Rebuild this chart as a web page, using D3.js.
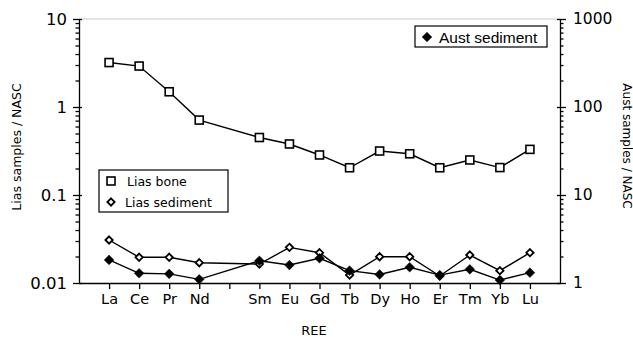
<!DOCTYPE html>
<html>
<head>
<meta charset="utf-8">
<script src="https://cdn.jsdelivr.net/npm/d3@7"></script>
<style>
  body { margin: 0; background: #fff; }
  svg { display: block; }
  .axis path, .axis line { stroke: #000; stroke-width: 1.3; }
  .axis text { fill: #000; }
</style>
</head>
<body>
<svg id="chart"></svg>
<script>
// REE order, Pm has no data and no label
const elements = ['La', 'Ce', 'Pr', 'Nd', 'Pm', 'Sm', 'Eu', 'Gd', 'Tb', 'Dy', 'Ho', 'Er', 'Tm', 'Yb', 'Lu'];
const tickLabels = ['La', 'Ce', 'Pr', 'Nd', '', 'Sm', 'Eu', 'Gd', 'Tb', 'Dy', 'Ho', 'Er', 'Tm', 'Yb', 'Lu'];

// left axis (Lias samples / NASC)
const liasBone = [3.2, 2.92, 1.49, 0.71, null, 0.45, 0.38, 0.285, 0.204, 0.316, 0.294, 0.204, 0.25, 0.205, 0.33];
const liasSediment = [0.0308, 0.0196, 0.0196, 0.017, null, 0.0164, 0.0254, 0.0221, 0.0123, 0.0199, 0.0199, 0.012, 0.0208, 0.0138, 0.0221];
// right axis (Aust samples / NASC)
const austSediment = [1.83, 1.29, 1.27, 1.1, null, 1.79, 1.6, 1.91, 1.38, 1.25, 1.51, 1.23, 1.43, 1.08, 1.31];

const leftTicks = [0.01, 0.1, 1, 10];
const rightTicks = [1, 10, 100, 1000];

const width = 633, height = 337;
const svg = d3.select('#chart').attr('width', width).attr('height', height);

const x = d3.scaleLinear().domain([-1, elements.length]).range([79, 560]);
const yL = d3.scaleLog().domain([0.01, 10]).range([283, 19]);
const yR = d3.scaleLog().domain([1, 1000]).range([283, 19]);

const font = 'DejaVu Sans, sans-serif';

function minors(lo, hi) {
  const out = [];
  for (let p = lo; p < hi; p *= 10) {
    for (let k = 2; k <= 9; k++) out.push(p * k);
  }
  return out;
}

// top frame line (faint in the reference)
svg.append('line')
  .attr('x1', x.range()[0]).attr('x2', x.range()[1])
  .attr('y1', yL.range()[1]).attr('y2', yL.range()[1])
  .attr('stroke', '#c8c8c8').attr('stroke-width', 1);

// x axis
svg.append('g')
  .attr('class', 'axis')
  .attr('transform', `translate(0,${yL.range()[0]})`)
  .call(d3.axisBottom(x)
    .tickValues(d3.range(elements.length))
    .tickSizeInner(6).tickSizeOuter(0)
    .tickPadding(5)
    .tickFormat(i => tickLabels[i]))
  .call(g => g.selectAll('text').attr('font-family', font).attr('font-size', 14.5));

// left axis
svg.append('g')
  .attr('class', 'axis')
  .attr('transform', `translate(${x.range()[0]},0)`)
  .call(d3.axisLeft(yL)
    .tickValues(leftTicks)
    .tickSizeInner(6).tickSizeOuter(0)
    .tickPadding(6)
    .tickFormat(d => d >= 1 ? d3.format('d')(d) : String(d)))
  .call(g => g.selectAll('text').attr('font-family', font).attr('font-size', 16.5));

svg.append('g')
  .attr('class', 'axis')
  .attr('transform', `translate(${x.range()[0]},0)`)
  .call(d3.axisLeft(yL).tickValues(minors(0.01, 10)).tickSize(3.5).tickFormat(''))
  .call(g => g.select('.domain').remove());

svg.append('g')
  .attr('class', 'axis')
  .attr('transform', `translate(${x.range()[0]},0)`)
  .call(d3.axisRight(yL).tickValues(leftTicks).tickSize(3).tickFormat(''))
  .call(g => g.select('.domain').remove());

// right axis
svg.append('g')
  .attr('class', 'axis')
  .attr('transform', `translate(${x.range()[1]},0)`)
  .call(d3.axisRight(yR)
    .tickValues(rightTicks)
    .tickSizeInner(6).tickSizeOuter(0)
    .tickPadding(7)
    .tickFormat(d3.format('d')))
  .call(g => g.selectAll('text').attr('font-family', font).attr('font-size', 15.5));

svg.append('g')
  .attr('class', 'axis')
  .attr('transform', `translate(${x.range()[1]},0)`)
  .call(d3.axisRight(yR).tickValues(minors(1, 1000)).tickSize(3.5).tickFormat(''))
  .call(g => g.select('.domain').remove());

svg.append('g')
  .attr('class', 'axis')
  .attr('transform', `translate(${x.range()[1]},0)`)
  .call(d3.axisLeft(yR).tickValues(rightTicks).tickSize(3).tickFormat(''))
  .call(g => g.select('.domain').remove());

// axis titles
svg.append('text')
  .attr('transform', 'translate(21,147) rotate(-90)')
  .attr('text-anchor', 'middle')
  .attr('font-family', font).attr('font-size', 12.5)
  .text('Lias samples / NASC');

svg.append('text')
  .attr('transform', 'translate(623,146) rotate(90)')
  .attr('text-anchor', 'middle')
  .attr('font-family', font).attr('font-size', 12)
  .text('Aust samples / NASC');

svg.append('text')
  .attr('x', 314).attr('y', 335)
  .attr('text-anchor', 'middle')
  .attr('font-family', font).attr('font-size', 13)
  .text('REE');

// series
const diamond = d3.symbol().type(d3.symbolDiamond2);
const series = [
  { name: 'Lias bone', values: liasBone, y: yL, shape: 'square', fill: '#fff' },
  { name: 'Lias sediment', values: liasSediment, y: yL, shape: 'diamond', fill: '#fff' },
  { name: 'Aust sediment', values: austSediment, y: yR, shape: 'diamond', fill: '#000' }
];

function drawMarker(g, shape, fill) {
  if (shape === 'square') {
    g.append('rect')
      .attr('x', -4).attr('y', -4).attr('width', 8).attr('height', 8)
      .attr('fill', fill).attr('stroke', '#000').attr('stroke-width', 1.6);
  } else {
    g.append('path')
      .attr('d', diamond.size(fill === '#000' ? 60 : 34)())
      .attr('fill', fill).attr('stroke', '#000').attr('stroke-width', fill === '#000' ? 0.5 : 1.8);
  }
}

series.forEach(s => {
  const pts = s.values.map((v, i) => ({ i, v })).filter(d => d.v != null);
  const line = d3.line().x(d => x(d.i)).y(d => s.y(d.v));
  svg.append('path')
    .datum(pts)
    .attr('d', line)
    .attr('fill', 'none')
    .attr('stroke', '#000')
    .attr('stroke-width', 1.4);
  svg.append('g').selectAll('g')
    .data(pts)
    .join('g')
    .attr('transform', d => `translate(${x(d.i)},${s.y(d.v)})`)
    .each(function () { drawMarker(d3.select(this), s.shape, s.fill); });
});

// legend: Lias
const legL = svg.append('g').attr('transform', 'translate(99,170)');
legL.append('rect').attr('width', 129).attr('height', 42)
  .attr('fill', '#fff').attr('stroke', '#000').attr('stroke-width', 1.2);
[series[0], series[1]].forEach((s, k) => {
  const row = legL.append('g').attr('transform', `translate(12,${11 + k * 21})`);
  drawMarker(row, s.shape, s.fill);
  row.append('text').attr('x', k === 0 ? 16 : 14).attr('y', 4.5)
    .attr('font-family', font).attr('font-size', 12.5)
    .text(s.name);
});

// legend: Aust
const legR = svg.append('g').attr('transform', 'translate(415,26)');
legR.append('rect').attr('width', 132).attr('height', 21)
  .attr('fill', '#fff').attr('stroke', '#000').attr('stroke-width', 1.2);
const rowR = legR.append('g').attr('transform', 'translate(12,11)');
drawMarker(rowR, series[2].shape, series[2].fill);
rowR.append('text').attr('x', 12).attr('y', 5.5)
  .attr('font-family', 'Liberation Sans, Arial, sans-serif').attr('font-size', 15.5)
  .text(series[2].name);
</script>
</body>
</html>
